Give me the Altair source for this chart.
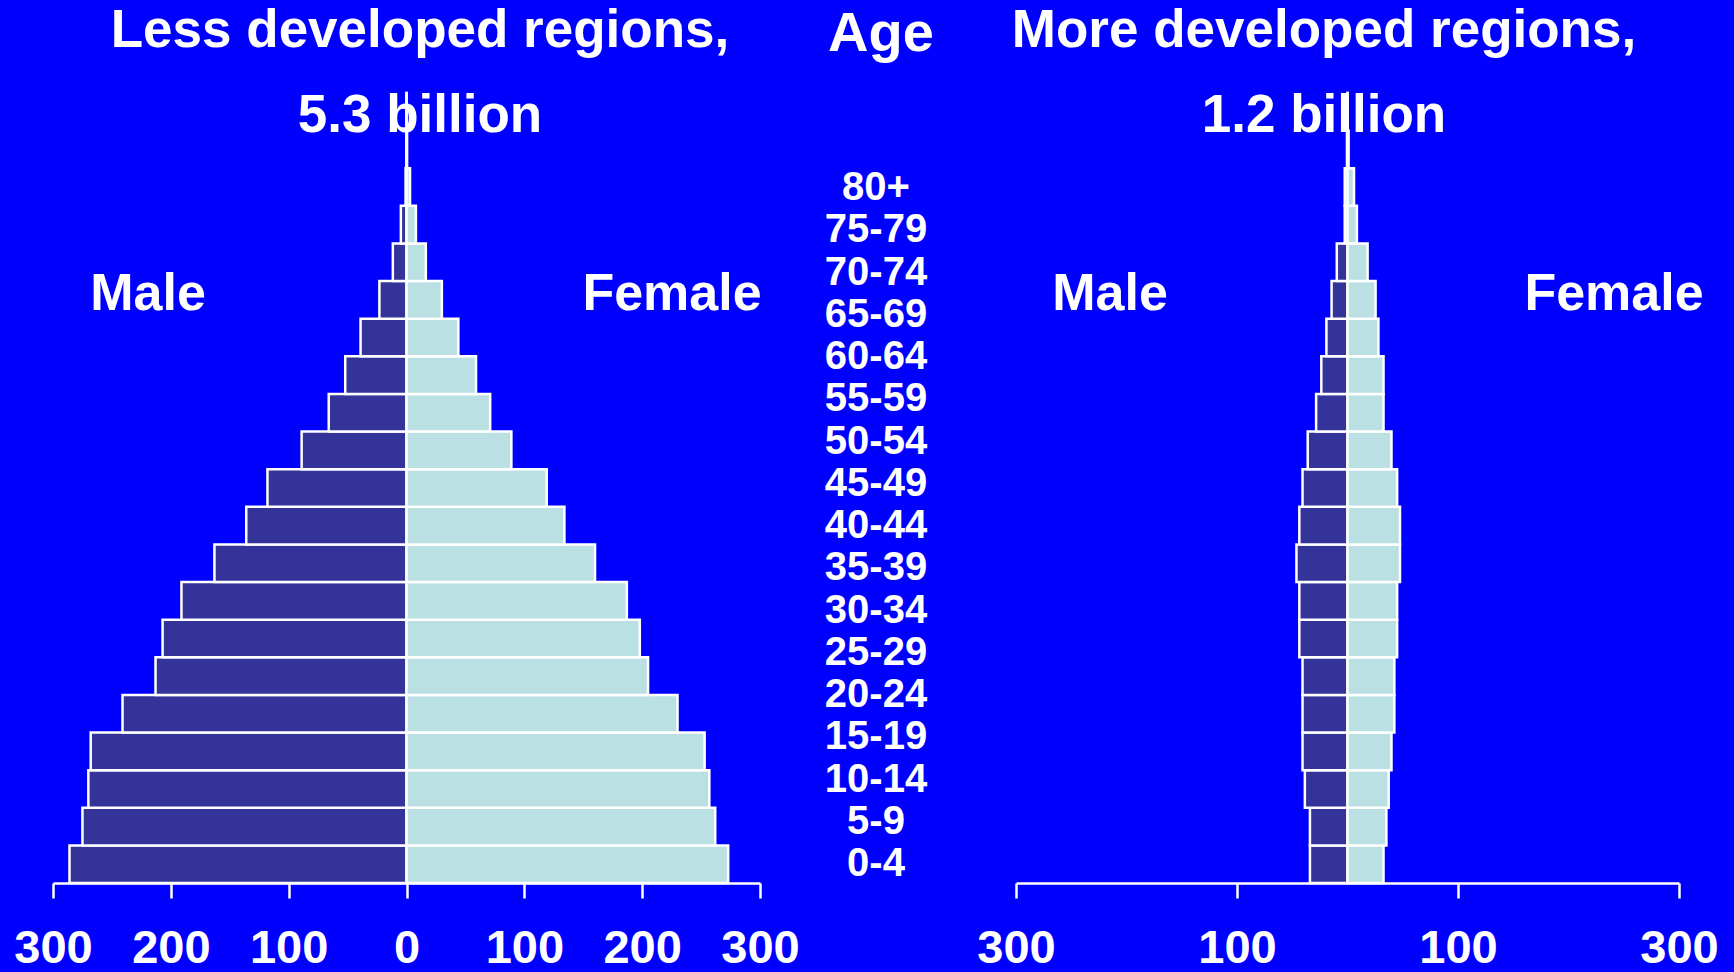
import altair as alt
import pandas as pd

# Five-year age groups, youngest first
ages = ["0-4", "5-9", "10-14", "15-19", "20-24", "25-29", "30-34", "35-39",
        "40-44", "45-49", "50-54", "55-59", "60-64", "65-69", "70-74",
        "75-79", "80-84", "85-89", "90-94", "95-99", "100+"]

# Population in millions, less developed regions
male_less = [286, 275, 270, 268, 241, 213, 207, 191, 163, 136, 118,
             89, 66, 52, 39, 23, 11.6, 4.8, 0.8, 0.2, 0.1]
female_less = [273, 262, 257, 253, 230, 205, 198, 187, 160, 134, 119,
               89, 71, 59, 44, 30, 16.4, 8.0, 3.0, 0.5, 0.1]

# Population in millions, more developed regions
male_more = [34, 34, 38.6, 40.7, 40.7, 40.7, 43.6, 43.6, 46.2, 43.6, 40.7,
             36, 28.4, 23.7, 19.1, 14.4, 9.7, 2.5, 2.5, 0.5, 0.1]
female_more = [32.6, 35.2, 37.3, 39.8, 42.4, 42.4, 44.9, 44.9, 47.5, 47.5, 44.9,
               39.8, 32.6, 32.6, 28.0, 25.4, 18.2, 8.5, 5.9, 1.0, 0.2]

# Age labels printed down the middle
label_ages = ["80+", "75-79", "70-74", "65-69", "60-64", "55-59", "50-54",
              "45-49", "40-44", "35-39", "30-34", "25-29", "20-24", "15-19",
              "10-14", "5-9", "0-4"]

left_ticks = [-300, -200, -100, 0, 100, 200, 300]
right_ticks = [-300, -100, 100, 300]

title_less = ["Less developed regions,", "5.3 billion"]
title_more = ["More developed regions,", "1.2 billion"]
sexes = ["Male", "Female"]
sex_colors = ["#333399", "#BBE0E3"]

FONT = "Liberation Sans, Arial, Helvetica, sans-serif"
BG = "#0000FF"


def pyramid_frame(male, female):
    rows = []
    for a, m, f in zip(ages, male, female):
        rows.append({"age": a, "sex": "Male", "pop": -m})
        rows.append({"age": a, "sex": "Female", "pop": f})
    return pd.DataFrame(rows)


def bottom_axis(values):
    return alt.Axis(
        values=values, orient="bottom", grid=False, title=None,
        labelExpr="format(abs(datum.value), 'd')",
        domainColor="white", domainWidth=2.5,
        tickColor="white", tickWidth=2.5, tickSize=15,
        labelColor="white", labelFont=FONT, labelFontSize=47,
        labelFontWeight="bold", labelPadding=27,
        labelFlush=False, labelOverlap=False,
    )


age_top_down = list(reversed(ages))
color_enc = alt.Color("sex:N", scale=alt.Scale(domain=sexes, range=sex_colors), legend=None)


def pyramid(male, female, x_range, ticks):
    return alt.Chart(pyramid_frame(male, female)).mark_bar(
        stroke="white", strokeWidth=2.5
    ).encode(
        x=alt.X("pop:Q",
                scale=alt.Scale(domain=[-300, 300], range=x_range, nice=False),
                axis=bottom_axis(ticks)),
        y=alt.Y("age:N", sort=age_top_down,
                scale=alt.Scale(range=[93, 883], paddingInner=0, paddingOuter=0),
                axis=None),
        color=color_enc,
    )


left = pyramid(male_less, female_less, [53, 760], left_ticks)
right = pyramid(male_more, female_more, [1016, 1679], right_ticks)

labels = alt.Chart(pd.DataFrame({"age": label_ages})).mark_text(
    font=FONT, fontSize=40, fontWeight="bold", color="white",
    align="center", baseline="middle"
).encode(
    x=alt.value(876),
    y=alt.Y("age:N", sort=label_ages,
            scale=alt.Scale(type="point", range=[188, 864], padding=0),
            axis=None),
    text="age:N",
)


def note(text, x, y, size):
    return alt.Chart(pd.DataFrame({"t": [text]})).mark_text(
        font=FONT, fontSize=size, fontWeight="bold", color="white",
        align="center", baseline="alphabetic"
    ).encode(x=alt.value(x), y=alt.value(y), text="t:N")


notes = [
    note(title_less[0], 420, 47, 53),
    note(title_less[1], 420, 132, 53),
    note("Age", 881, 51, 56),
    note(title_more[0], 1324, 47, 53),
    note(title_more[1], 1324, 132, 53),
    note(sexes[0], 148, 310, 52),
    note(sexes[1], 672, 310, 52),
    note(sexes[0], 1110, 310, 52),
    note(sexes[1], 1614, 310, 52),
]

chart = alt.layer(left, right, labels, *notes).resolve_scale(
    x="independent", y="independent"
).resolve_axis(
    x="independent", y="independent"
).properties(
    width=1734, height=883,
    autosize=alt.AutoSizeParams(type="none"),
    padding={"left": 0, "top": 0, "right": 0, "bottom": 89},
    background=BG,
).configure_view(stroke=None)

chart.save("out.html", embed_options={"renderer": "svg", "actions": False})
